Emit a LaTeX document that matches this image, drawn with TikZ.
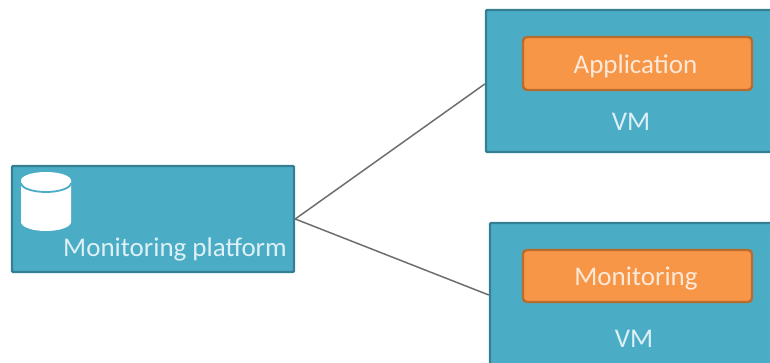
\documentclass[tikz,border=0pt]{standalone}
\usepackage{fontspec}
\setmainfont{Carlito}
\definecolor{boxblue}{HTML}{4BACC6}
\definecolor{boxedge}{HTML}{357F93}
\definecolor{orfill}{HTML}{F79646}
\definecolor{oredge}{HTML}{B86D2E}
\definecolor{txtc}{HTML}{DDF0F5}
\definecolor{ortxt}{HTML}{FDE9DA}
\definecolor{linec}{HTML}{6E6E6E}
\tikzset{
 x=1pt,y=-1pt,
 bluebox/.style={draw=boxedge,fill=boxblue,line width=2.4pt,rounded corners=1pt,inner sep=0pt},
 orbox/.style={draw=oredge,fill=orfill,line width=2.4pt,rounded corners=4pt,inner sep=0pt},
 lab/.style={text=txtc,inner sep=0pt,font=\fontsize{27}{30}\selectfont},
 orlab/.style={text=ortxt,inner sep=0pt,font=\fontsize{27}{30}\selectfont},
 conn/.style={draw=linec,line width=1.5pt}
}
\begin{document}
\begin{tikzpicture}
\useasboundingbox (0,0) rectangle (770,363);
\clip (0,0) rectangle (770,363);
\node[bluebox,minimum width=282pt,minimum height=106pt] (plat) at (153,219) {};
\node[bluebox,minimum width=310pt,minimum height=142pt] (vm1) at (641,81) {};
\node[bluebox,minimum width=310pt,minimum height=144pt] (vm2) at (645,295) {};
\node[orbox,minimum width=229pt,minimum height=53pt] (app) at (637.5,63.5) {};
\node[orbox,minimum width=229pt,minimum height=52pt] (mon) at (637.5,276) {};
\node[orlab] (appt) at (635.5,66) {Application};
\node[orlab] (mont) at (636,279) {Monitoring};
\node[lab] (vma) at (631,122) {VM};
\node[lab] (vmb) at (634,339) {VM};
\node[lab] (pl) at (175,249.5) {Monitoring platform};
\draw[conn] (plat.east) -- ([yshift=-3pt]vm1.west);
\draw[conn] (plat.east) -- (vm2.west);
% database icon
\fill[white] (21,181) -- (21,222) arc[x radius=25,y radius=9,start angle=180,end angle=0] -- (71,181) -- cycle;
\draw[boxblue,line width=1.8pt] (21,183) arc[x radius=25,y radius=9,start angle=180,end angle=0];
\fill[white] (46,180.5) ellipse[x radius=25,y radius=8.5];
\end{tikzpicture}
\end{document}
